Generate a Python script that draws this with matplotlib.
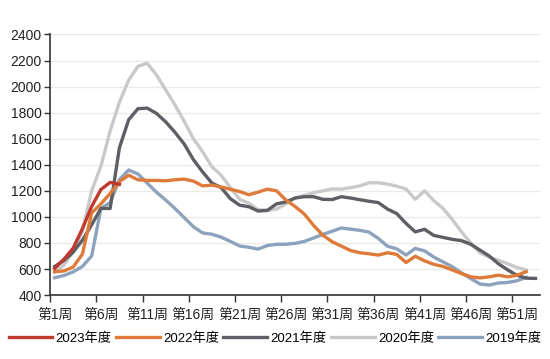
import matplotlib
matplotlib.use('Agg')
import matplotlib.pyplot as plt
from matplotlib.ticker import FixedLocator, NullFormatter

plt.rcParams['font.family'] = ['Liberation Sans', 'Noto Sans CJK SC']

"""
周度数据, 第1周 ~ 第53周
"""
y2023 = [605, 675, 760, 910, 1080, 1210, 1265, 1250]
y2022 = [580, 585, 615, 715, 1030, 1100, 1180, 1270, 1320, 1285,
         1280, 1280, 1277, 1285, 1290, 1275, 1238, 1244, 1230, 1212,
         1195, 1170, 1190, 1213, 1200, 1130, 1080, 1022, 935, 860,
         810, 776, 742, 725, 717, 707, 725, 712, 650, 698,
         663, 636, 620, 593, 565, 540, 532, 540, 553, 540,
         552, 580]
y2021 = [620, 665, 730, 820, 940, 1065, 1065, 1530, 1745, 1830,
         1835, 1795, 1730, 1650, 1560, 1440, 1345, 1260, 1225, 1140,
         1090, 1078, 1045, 1050, 1100, 1115, 1145, 1155, 1155, 1135,
         1133, 1155, 1145, 1132, 1120, 1110, 1060, 1025, 950, 885,
         905, 858, 843, 828, 818, 790, 745, 700, 640, 593,
         552, 530, 528]
y2020 = [575, 630, 730, 890, 1200, 1390, 1660, 1880, 2050, 2155,
         2180, 2090, 1975, 1860, 1735, 1600, 1500, 1385, 1320, 1225,
         1135, 1105, 1055, 1050, 1060, 1100, 1145, 1165, 1185, 1200,
         1215, 1213, 1225, 1238, 1262, 1262, 1252, 1235, 1215, 1135,
         1200, 1125, 1065, 980, 885, 800, 725, 690, 668, 640,
         612, 592]
y2019 = [533, 550, 578, 620, 700, 1065, 1110, 1285, 1360, 1330,
         1260, 1190, 1130, 1065, 995, 925, 877, 867, 845, 812,
         777, 767, 753, 780, 790, 790, 797, 812, 838, 866,
         890, 915, 906, 897, 883, 835, 775, 755, 707, 758,
         740, 692, 655, 618, 570, 527, 485, 477, 493, 497,
         510, 536]

weeks = ['第%d周' % w for w in range(1, 54)]
label_weeks = [1, 6, 11, 16, 21, 26, 31, 36, 41, 46, 51]

series = [
    ('2023年度', y2023, '#c0392f', 5),
    ('2022年度', y2022, '#df7b3a', 4),
    ('2021年度', y2021, '#5e5f64', 3),
    ('2020年度', y2020, '#c9c9c9', 2),
    ('2019年度', y2019, '#8da2bc', 1),
]

fig = plt.figure(figsize=(5.5, 3.59), dpi=100)
ax = fig.add_axes([0.091, 0.178, 0.891, 0.726])

for name, vals, color, z in series:
    ax.plot(range(len(vals)), vals, color=color, lw=2.4, label=name,
            zorder=z, solid_joinstyle='round')

ax.set_ylim(400, 2400)
ax.set_yticks(range(400, 2401, 200))
ax.set_xlim(-0.5, 52.5)

ax.set_xticks([w - 1 for w in label_weeks])
ax.set_xticklabels([weeks[w - 1] for w in label_weeks], fontsize=10, color='#222222')
ax.tick_params(axis='x', which='major', length=0, pad=9)
ax.xaxis.set_minor_locator(FixedLocator([w - 1.5 for w in label_weeks]))
ax.xaxis.set_minor_formatter(NullFormatter())
ax.tick_params(axis='x', which='minor', length=5, width=1, color='#333333', direction='out')
ax.tick_params(axis='y', length=4, width=1, color='#333333', labelsize=10, labelcolor='#222222', pad=2)

ax.grid(axis='y', color='#ebebe6', lw=1, zorder=0)
ax.set_axisbelow(True)
for s in ['top', 'right']:
    ax.spines[s].set_visible(False)
ax.spines['left'].set_color('#333333')
ax.spines['bottom'].set_color('#333333')
ax.spines['left'].set_linewidth(1.2)
ax.spines['bottom'].set_linewidth(1.2)

fig.legend(loc='lower center', bbox_to_anchor=(0.5, 0.025), ncol=5, frameon=False,
           fontsize=9.5, handlelength=3.3, handletextpad=0.25, columnspacing=0.35,
           borderpad=0.2, borderaxespad=0.2)

fig.savefig('out.png', dpi=100)
